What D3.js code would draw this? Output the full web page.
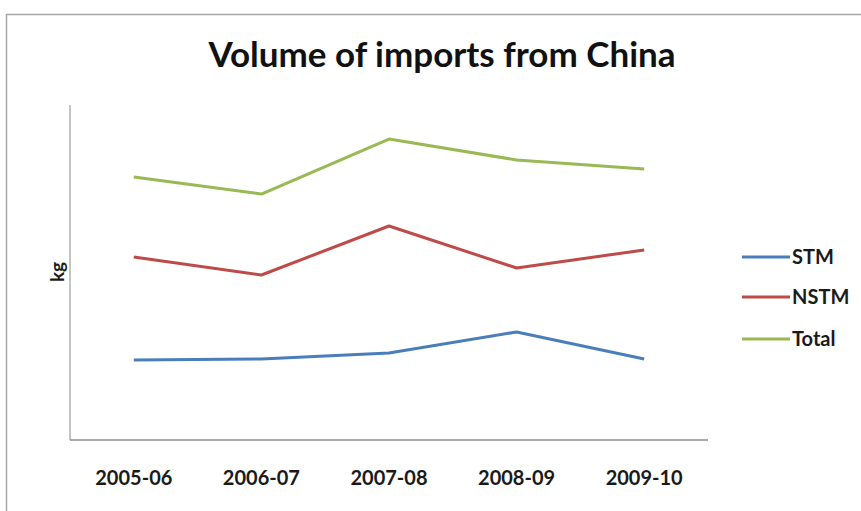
<!DOCTYPE html>
<html>
<head>
<meta charset="utf-8">
<title>Volume of imports from China</title>
<style>
  body { margin: 0; background: #fff; }
</style>
</head>
<body>
<div id="chart"></div>
<script src="https://cdn.jsdelivr.net/npm/d3@7/dist/d3.min.js"></script>
<script>
// data (kg; Total = STM + NSTM)
var years = ['2005-06', '2006-07', '2007-08', '2008-09', '2009-10'];
var stm   = [9550, 9670, 10390, 12900, 9670];
var nstm  = [21850, 19700, 25550, 20540, 22690];
var total = [31400, 29370, 35940, 33440, 32360];
var seriesNames = ['STM', 'NSTM', 'Total'];
var colors = ['#4A7EBB', '#BE4B48', '#98B954'];

var W = 861, H = 511;
var plot = {left: 70, right: 708, top: 105, bottom: 440};
var font = "'Lato', 'Open Sans', sans-serif";

var svg = d3.select('#chart').append('svg')
  .attr('width', W).attr('height', H);

// outer frame
svg.append('rect')
  .attr('x', 6.5).attr('y', 14.5)
  .attr('width', W + 20).attr('height', H + 20)
  .attr('fill', 'none').attr('stroke', '#a6a6a6').attr('stroke-width', 1.5);

var x = d3.scaleBand().domain(years).range([plot.left, plot.right]);
var y = d3.scaleLinear().domain([0, 40000]).range([plot.bottom, plot.top]);

// title
svg.append('text')
  .attr('x', 442).attr('y', 67)
  .attr('text-anchor', 'middle')
  .style('font-family', font).style('font-size', '35px').style('font-weight', 'bold')
  .style('fill', '#111')
  .text('Volume of imports from China');

// axes (no ticks)
svg.append('line')
  .attr('x1', plot.left).attr('x2', plot.left)
  .attr('y1', plot.top).attr('y2', plot.bottom)
  .attr('stroke', '#8c8c8c').attr('stroke-width', 1);
svg.append('line')
  .attr('x1', plot.left).attr('x2', plot.right)
  .attr('y1', plot.bottom).attr('y2', plot.bottom)
  .attr('stroke', '#8c8c8c').attr('stroke-width', 1.5);

// category labels
svg.selectAll('.xlab').data(years).enter().append('text')
  .attr('class', 'xlab')
  .attr('x', d => x(d) + x.bandwidth() / 2)
  .attr('y', 485)
  .attr('text-anchor', 'middle')
  .style('font-family', font).style('font-size', '20px').style('font-weight', 'bold')
  .style('fill', '#1a1a1a')
  .text(d => d);

// y label
svg.append('text')
  .attr('transform', 'translate(64, 272) rotate(-90)')
  .attr('text-anchor', 'middle')
  .style('font-family', font).style('font-size', '19px').style('font-weight', 'bold')
  .style('fill', '#1a1a1a')
  .text('kg');

var line = d3.line()
  .x((d, i) => x(years[i]) + x.bandwidth() / 2)
  .y(d => y(d));

[stm, nstm, total].forEach(function(arr, k) {
  svg.append('path')
    .attr('d', line(arr))
    .attr('fill', 'none')
    .attr('stroke', colors[k])
    .attr('stroke-width', 3)
    .attr('stroke-linejoin', 'round');
});

// legend
var legY = [257, 297, 339];
seriesNames.forEach(function(name, k) {
  svg.append('line')
    .attr('x1', 742).attr('x2', 790)
    .attr('y1', legY[k]).attr('y2', legY[k])
    .attr('stroke', colors[k]).attr('stroke-width', 3);
  svg.append('text')
    .attr('x', 792).attr('y', legY[k] + 7)
    .style('font-family', font).style('font-size', '20px').style('font-weight', 'bold')
    .style('fill', '#1a1a1a')
    .text(name);
});
</script>
</body>
</html>
